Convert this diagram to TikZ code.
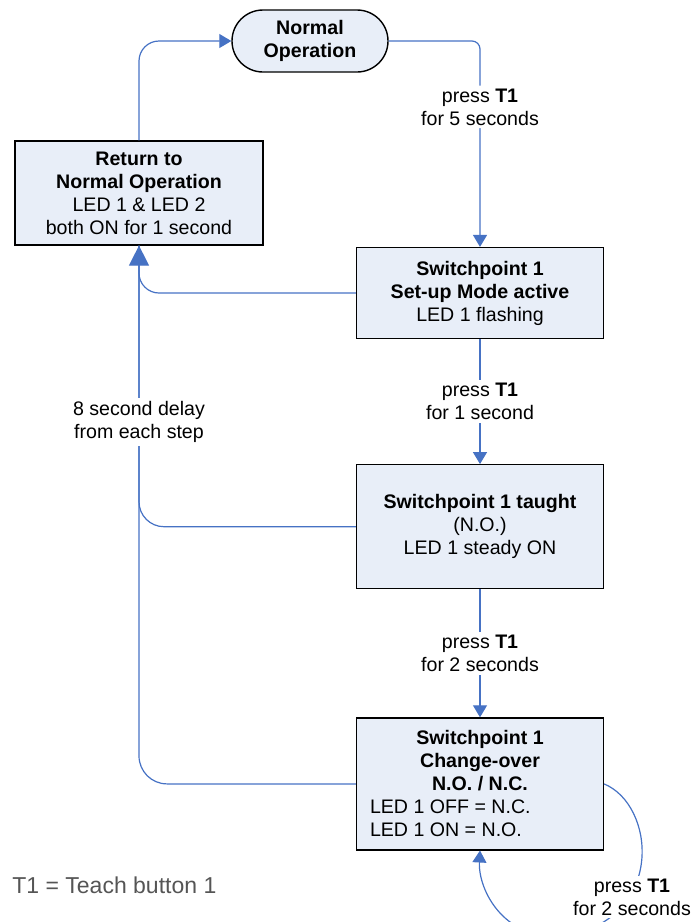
\documentclass[tikz,border=0pt]{standalone}
\usepackage{fontspec}
\setmainfont{Liberation Sans}
\usetikzlibrary{positioning,arrows.meta}
\definecolor{tbBlue}{RGB}{70,114,196}
\definecolor{tbFill}{RGB}{232,238,248}
\definecolor{tbGray}{RGB}{85,85,85}
\tikzset{
    base/.style={font=\fontsize{9.8}{11.5}\selectfont, align=center, text=black},
    stepbox/.style={base, rectangle, draw=black, line width=0.6pt, fill=tbFill,
                    minimum width=123.5pt, inner sep=2pt},
    pill/.style={base, rectangle, rounded corners=15.5pt, draw=black, line width=0.7pt,
                 fill=tbFill, minimum width=78pt, minimum height=31pt},
    flow/.style={-{Triangle[length=6pt,width=7pt]}, line width=0.6pt, color=tbBlue},
    big tip/.style={-{Triangle[length=10pt,width=10pt]}},
    note/.style={base, fill=white, inner sep=1.5pt},
    legend/.style={font=\fontsize{11.5}{13}\selectfont, text=tbGray, inner sep=0pt}
}

\begin{document}
\begin{tikzpicture}[x=0.5pt, y=-0.5pt]
  \useasboundingbox (0,0) rectangle (693,922);

  \node[pill] (normal) at (310,41) {\textbf{Normal}\\\textbf{Operation}};
  \node[stepbox, minimum width=124pt, minimum height=52pt] (ret) at (139,193)
    {\textbf{Return to}\\\textbf{Normal Operation}\\LED 1 \& LED 2\\both ON for 1 second};
  \node[stepbox, minimum height=45.5pt] (setup) at (480,293)
    {\textbf{Switchpoint 1}\\\textbf{Set-up Mode active}\\LED 1 flashing};
  \node[stepbox, minimum height=62pt] (taught) [below=62.5pt of setup]
    {\textbf{Switchpoint 1 taught}\\(N.O.)\\LED 1 steady ON};
  \node[stepbox, minimum height=66pt] (change) [below=64pt of taught]
    {\textbf{Switchpoint 1}\\\textbf{Change-over}\\\textbf{N.O. / N.C.}\\
     \makebox[110pt][l]{LED 1 OFF = N.C.}\\\makebox[110pt][l]{LED 1 ON = N.O.}};

  % main sequence
  \draw[flow, rounded corners=4pt] (normal.east) -| node[note, pos=0.66]
    {press \textbf{T1}\\for 5 seconds} (setup.north);
  \draw[flow] (setup) -- node[note] {press \textbf{T1}\\for 1 second} (taught);
  \draw[flow] (taught) -- node[note] {press \textbf{T1}\\for 2 seconds} (change);
  \draw[flow, rounded corners=10pt] (ret.north) |- (normal.west);

  % time-out back to normal operation
  \draw[flow, -, rounded corners=14pt] (change.west) -| (ret.south);
  \draw[flow, -, rounded corners=12.5pt] (taught.west) -| (ret.south);
  \draw[flow, big tip, rounded corners=10pt] (setup.west) -| (ret.south);
  \node[note] (delay) at (139,422) {8 second delay\\from each step};

  % toggle N.O. / N.C.
  \draw[flow] (change.east) .. controls (655,805) and (665,915) .. (570,935)
    .. controls (505,945) and (478,890) .. (change.south);
  \node[note] (toggle) at (632,897) {press \textbf{T1}\\for 2 seconds};

  \node[legend, anchor=west] (key) at (12,885) {T1 = Teach button 1};
\end{tikzpicture}
\end{document}
